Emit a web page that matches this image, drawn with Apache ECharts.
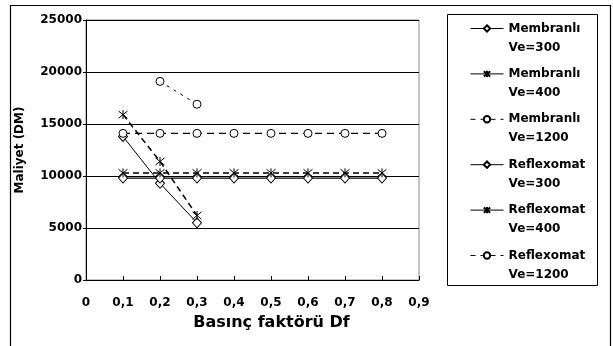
<!DOCTYPE html>
<html>
<head>
<meta charset="utf-8">
<script src="https://cdn.jsdelivr.net/npm/echarts@6/dist/echarts.min.js"></script>
<style>html,body{margin:0;padding:0;background:#fff}#c{width:613px;height:346px}</style>
</head>
<body>
<div id="c"></div>
<script>
const dfValues = [0.1, 0.2, 0.3, 0.4, 0.5, 0.6, 0.7, 0.8];
const xTickLabels = ['0', '0,1', '0,2', '0,3', '0,4', '0,5', '0,6', '0,7', '0,8', '0,9'];
const seriesNames = ['Membranlı\nVe=300', 'Membranlı\nVe=400', 'Membranlı\nVe=1200', 'Reflexomat\nVe=300', 'Reflexomat\nVe=400', 'Reflexomat\nVe=1200'];
const membranli300 = [13800, 9300, 5500];
const membranli400 = [15900, 11400, 6200];
const membranli1200 = [null, 19100, 16900];
const reflexomat300 = [9800, 9800, 9800, 9800, 9800, 9800, 9800, 9800];
const reflexomat400 = [10300, 10300, 10300, 10300, 10300, 10300, 10300, 10300];
const reflexomat1200 = [14100, 14100, 14100, 14100, 14100, 14100, 14100, 14100];

function pairs(vals) {
  const out = [];
  vals.forEach(function (v, i) { if (v !== null) out.push([dfValues[i], v]); });
  return out;
}
const FONT = 'DejaVu Sans';
const STAR = 'path://M5,0L5,10M0,1L10,9M0,9L10,1';
function mk(name, data, symbol, size, lineType, lineWidth, lineColor) {
  return {
    name: name, type: 'line', data: pairs(data), symbol: symbol, symbolSize: size,
    showSymbol: true, animation: false,
    lineStyle: { color: lineColor || '#000', width: lineWidth, type: lineType },
    itemStyle: { color: '#fff', borderColor: '#000', borderWidth: 1 },
    emphasis: { disabled: true }
  };
}
const chart = echarts.init(document.getElementById('c'), null, { renderer: 'canvas' });
const legendText = { fontFamily: FONT, fontWeight: 'bold', fontSize: 12, color: '#000', lineHeight: 19 };
chart.setOption({
  animation: false,
  backgroundColor: '#fff',
  grid: { left: 86, right: 194, top: 20, bottom: 66, show: true, borderColor: '#888', borderWidth: 1, backgroundColor: 'transparent' },
  xAxis: {
    type: 'value', min: 0, max: 0.9, interval: 0.1,
    name: 'Basınç faktörü Df', nameLocation: 'middle', nameGap: 35,
    nameTextStyle: { fontFamily: FONT, fontWeight: 'bold', fontSize: 16, color: '#000', padding: [0, 0, 0, 38] },
    axisLine: { show: true, lineStyle: { color: '#000', width: 1 } },
    axisTick: { show: true, inside: true, length: 4, lineStyle: { color: '#000' } },
    splitLine: { show: false },
    axisLabel: { margin: 17, fontFamily: FONT, fontWeight: 'bold', fontSize: 12, color: '#000',
      formatter: function (v) { return xTickLabels[Math.round(v * 10)]; } }
  },
  yAxis: {
    type: 'value', min: 0, max: 25000, interval: 5000,
    name: 'Maliyet (DM)', nameLocation: 'middle', nameGap: 60, nameRotate: 90,
    nameTextStyle: { fontFamily: FONT, fontWeight: 'bold', fontSize: 12, color: '#000' },
    axisLine: { show: true, lineStyle: { color: '#000', width: 1 } },
    axisTick: { show: true, length: 3, lineStyle: { color: '#000' } },
    splitLine: { show: true, lineStyle: { color: '#000', width: 1 } },
    axisLabel: { margin: 4, fontFamily: FONT, fontWeight: 'bold', fontSize: 12, color: '#000',
      formatter: function (v) { return String(v); } }
  },
  legend: {
    orient: 'vertical', left: 470, top: 0, padding: 0, itemGap: -11.6, itemWidth: 33, itemHeight: 8,
    borderWidth: 0, selectedMode: false,
    textStyle: legendText,
    formatter: function (name) { return '\n' + name; },
    data: [
      { name: seriesNames[0], lineStyle: { type: 'solid', width: 1 } },
      { name: seriesNames[1], lineStyle: { type: 'solid', width: 1 } },
      { name: seriesNames[2], lineStyle: { type: [5, 5], width: 1 } },
      { name: seriesNames[3], lineStyle: { type: 'solid', width: 1 } },
      { name: seriesNames[4], lineStyle: { type: 'solid', width: 1 } },
      { name: seriesNames[5], lineStyle: { type: [5, 5], width: 1 } }
    ]
  },
  graphic: [
    { type: 'rect', shape: { x: 10.5, y: 5.5, width: 600, height: 400 }, style: { fill: 'none', stroke: '#000', lineWidth: 1.2 }, silent: true, z: -10 },
    { type: 'rect', shape: { x: 447.5, y: 14.5, width: 150, height: 271 }, style: { fill: 'none', stroke: '#000', lineWidth: 1 }, silent: true }
  ],
  series: [
    mk(seriesNames[0], membranli300, 'diamond', [9, 10], 'solid', 1),
    mk(seriesNames[1], membranli400, STAR, 9, [6, 4], 1.5),
    mk(seriesNames[2], membranli1200, 'circle', 8, [3, 5], 1),
    mk(seriesNames[3], reflexomat300, 'diamond', [9, 10], 'solid', 1.2),
    mk(seriesNames[4], reflexomat400, STAR, 9, [6, 4], 1.5),
    mk(seriesNames[5], reflexomat1200, 'circle', 8, [7, 5], 1.2)
  ]
});
</script>
</body>
</html>
